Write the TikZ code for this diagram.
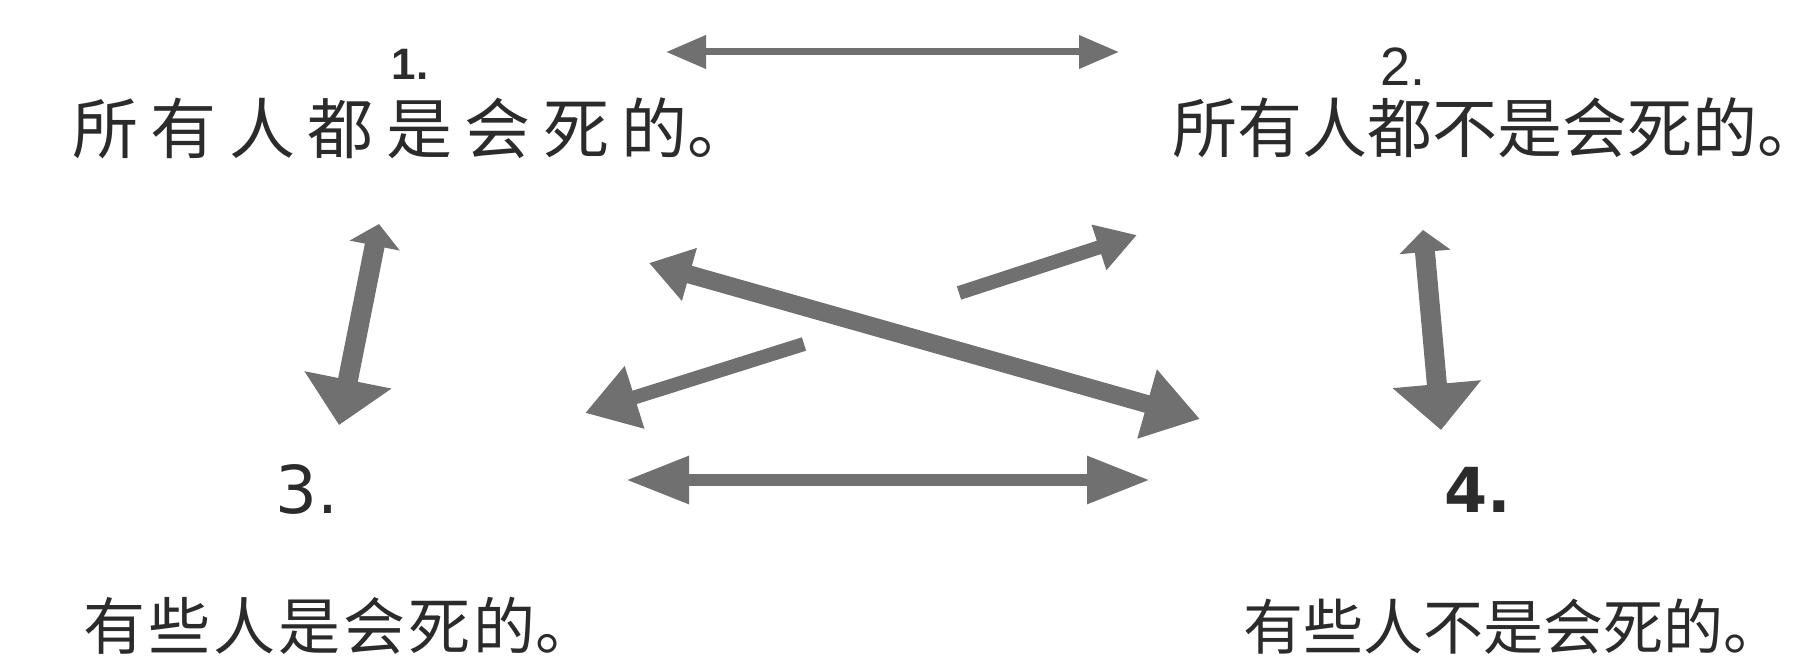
\documentclass[tikz,border=0pt]{standalone}
\usepackage{fontspec}
\newfontfamily\cjkA[LetterSpace=19]{Noto Sans CJK SC}
\newfontfamily\cjkB[LetterSpace=0]{Noto Sans CJK SC}
\newfontfamily\cjkC[LetterSpace=5]{Noto Sans CJK SC}
\newfontfamily\numfont{Liberation Sans}
\newfontfamily\wnumfont{DejaVu Sans}
\newcommand{\stopmk}{\makebox[0.4em][l]{。}}
\usetikzlibrary{arrows.meta}
\definecolor{ink}{HTML}{2B2B2B}
\definecolor{arrowgray}{HTML}{707070}
\begin{document}
\begin{tikzpicture}[x=1pt,y=-1pt,
  txt/.style={anchor=west,inner sep=0pt,text=ink},
  smallnum/.style={inner sep=0pt,text=ink,font=\numfont\fontsize{54}{54}\selectfont},
  bignum/.style={inner sep=0pt,text=ink,font=\wnumfont\fontsize{66}{66}\selectfont},
  arr/.style={draw=arrowgray,line cap=butt}]
\useasboundingbox (0,0) rectangle (1800,661);
% numbers
\node[smallnum,font=\numfont\bfseries\fontsize{44}{44}\selectfont] (n1) at (410,64) {1.};
\node[smallnum] (n2) at (1403,67) {2.};
\node[bignum] (n3) at (307,489) {3.};
\node[bignum,font=\wnumfont\bfseries\fontsize{62}{62}\selectfont] (n4) at (1478,490) {4.};
% texts
\node[txt,font=\cjkA\fontsize{66}{66}\selectfont] (t1) at (72,128) {所有人都是会死的\stopmk};
\node[txt,font=\cjkB\fontsize{65}{65}\selectfont] (t2) at (1172,128) {所有人都不是会死的\stopmk};
\node[txt,font=\cjkC\fontsize{62}{62}\selectfont] (t3) at (83,626) {有些人是会死的\stopmk};
\node[txt,font=\cjkB\fontsize{60}{60}\selectfont] (t4) at (1243,627) {有些人不是会死的\stopmk};
% arrow end points
\coordinate (a12l) at (666,52);
\coordinate (a12r) at (1119,52);
\coordinate (a13t) at (379,224);
\coordinate (a13b) at (339,425);
\coordinate (a24t) at (1423,230);
\coordinate (a24b) at (1441,430);
\coordinate (a14t) at (649,263);
\coordinate (a14b) at (1200,419);
\coordinate (a32s) at (959,293);
\coordinate (a32e) at (1137,235);
\coordinate (a23s) at (804,344);
\coordinate (a23e) at (585,413);
\coordinate (a34l) at (626,480);
\coordinate (a34r) at (1150,480);
% arrows
\draw[arr,line width=7pt,{Triangle[length=40pt,width=32pt]}-{Triangle[length=40pt,width=32pt]}] (a12l) -- (a12r);
\draw[arr,line width=20pt,{Triangle[length=22pt,width=50pt]}-{Triangle[length=46pt,width=86pt]}] (a13t) -- (a13b);
\draw[arr,line width=20pt,{Triangle[length=22pt,width=50pt]}-{Triangle[length=46pt,width=86pt]}] (a24t) -- (a24b);
\draw[arr,line width=18pt,{Triangle[length=42pt,width=52pt]}-{Triangle[length=55pt,width=68pt]}] (a14t) -- (a14b);
\draw[arr,line width=14pt,-{Triangle[length=40pt,width=45pt]}] (a32s) -- (a32e);
\draw[arr,line width=14pt,-{Triangle[length=52pt,width=62pt]}] (a23s) -- (a23e);
\draw[arr,line width=12pt,{Triangle[length=63pt,width=45pt]}-{Triangle[length=63pt,width=45pt]}] (a34l) -- (a34r);
\end{tikzpicture}
\end{document}
